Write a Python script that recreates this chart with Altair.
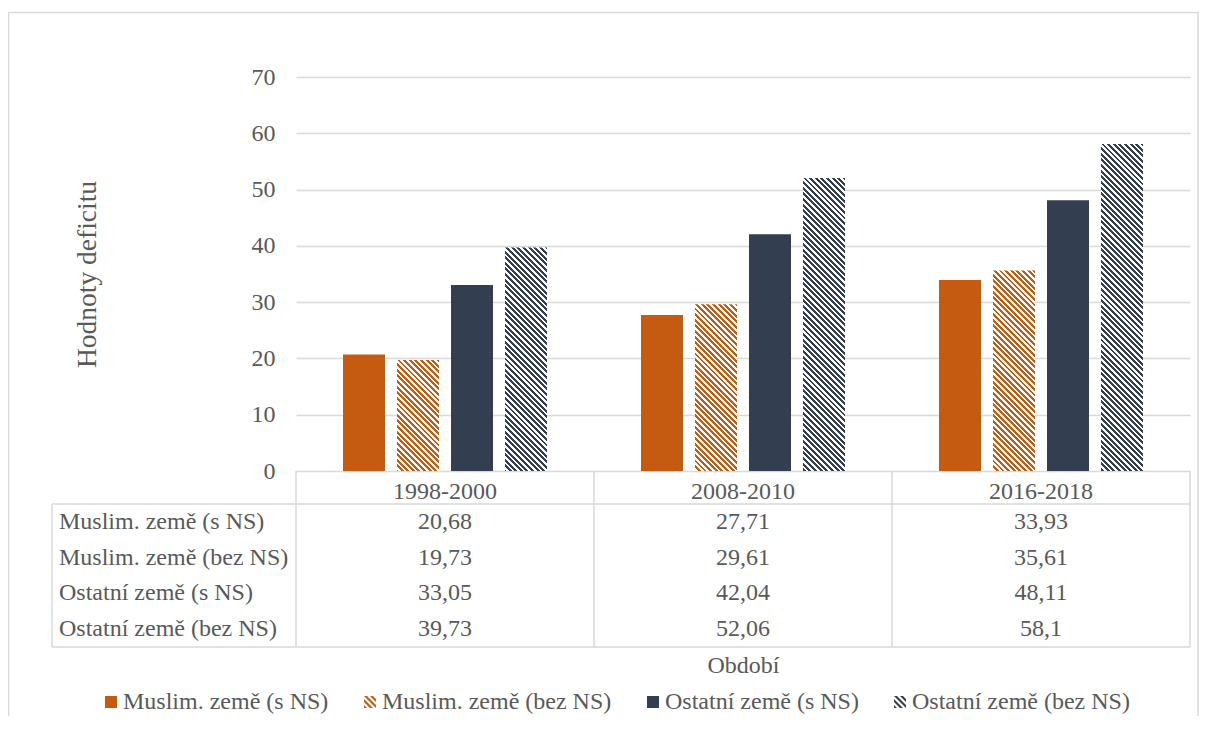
import math
import altair as alt
import pandas as pd

# ---------------- data ----------------
periods = ["1998-2000", "2008-2010", "2016-2018"]
series = ["Muslim. země (s NS)", "Muslim. země (bez NS)",
          "Ostatní země (s NS)", "Ostatní země (bez NS)"]
muslim_s = [20.68, 27.71, 33.93]
muslim_bez = [19.73, 29.61, 35.61]
ostatni_s = [33.05, 42.04, 48.11]
ostatni_bez = [39.73, 52.06, 58.1]
series_values = [muslim_s, muslim_bez, ostatni_s, ostatni_bez]
series_colors = ["#C55A11", "#C55A11", "#333F50", "#333F50"]
series_hatched = [False, True, False, True]
y_ticks = [0, 10, 20, 30, 40, 50, 60, 70]

# ---------------- style / layout ----------------
FONT = "Liberation Serif"
TEXT = "#595959"
LINE = "#D9D9D9"
W, H = 894, 394
YMAX = 70
STEP = W / len(periods)
BAR_STEP = 54.0
BAR_W = 42.0
PAD_IN = (BAR_STEP - BAR_W) / BAR_STEP
PAD_OUT = ((STEP - 4 * BAR_STEP + (BAR_STEP - BAR_W)) / 2) / BAR_STEP
BODY_TOP, BODY_BOT = 427, 570
LEFT_COL = -244

# hatch: pattern period = 1 y-unit in pixels; tiles of SEG units stacked from bar top
PX_PER_UNIT = H / YMAX
HATCH_P = 1.0 * PX_PER_UNIT
HATCH_DUTY = 0.52
SEG = 2
EPS = 0.15

rows = []
for s, vals in zip(series, series_values):
    for p, v in zip(periods, vals):
        rows.append({"period": p, "series": s, "value": v,
                     "label": f"{v:g}".replace(".", ",")})
df = pd.DataFrame(rows)


def hatch_gradient(color, w, h, period=HATCH_P, duty=HATCH_DUTY):
    """Diagonal '\\' stripes inside a w x h box, via a bbox-relative linear gradient."""
    L = w + h
    k = L / (w * w + h * h)
    a, b = w * k, h * k
    stops = []
    m = math.floor(-h / period) - 1
    while m * period < w:
        s0 = m * period
        s1 = s0 + period * duty
        s2 = s0 + period
        for lo, hi, c in ((s0, s1, color), (s1, s2, "#FFFFFF")):
            lo_c, hi_c = max(lo, -h), min(hi, w)
            if hi_c > lo_c:
                stops.append(((lo_c + h) / L, c))
                stops.append(((hi_c + h) / L, c))
        m += 1
    return {"gradient": "linear", "x1": 0, "y1": 1, "x2": a, "y2": 1 - b,
            "stops": [{"offset": round(o, 5), "color": c} for o, c in stops]}


def clip(poly, f):
    out = []
    n = len(poly)
    for i in range(n):
        p, q = poly[i], poly[(i + 1) % n]
        fp, fq = f(p), f(q)
        if fp >= 0:
            out.append(p)
        if (fp >= 0) != (fq >= 0):
            t = fp / (fp - fq)
            out.append((p[0] + t * (q[0] - p[0]), p[1] + t * (q[1] - p[1])))
    return out


def hatch_symbol(period=1.0, duty=0.5):
    sq = [(-1, -1), (1, -1), (1, 1), (-1, 1)]
    parts = []
    c = -2.0
    while c < 2.0:
        c0, c1 = c, c + period * duty
        poly = clip(sq, lambda p, c0=c0: (p[0] - p[1]) - c0)
        poly = clip(poly, lambda p, c1=c1: c1 - (p[0] - p[1]))
        if len(poly) >= 3:
            parts.append("M" + "L".join(f"{x:.3f},{y:.3f}" for x, y in poly) + "Z")
        c += period
    return "".join(parts)


HATCH_PATH = hatch_symbol()
shape_range = [HATCH_PATH if h else "square" for h in series_hatched]

# ---------------- encodings ----------------
x_enc = alt.X(
    "period:N",
    scale=alt.Scale(domain=periods, paddingInner=0, paddingOuter=0),
    axis=alt.Axis(labelFont=FONT, labelFontSize=24, labelColor=TEXT, labelAngle=0,
                  labelPadding=20, labelBaseline="middle", ticks=False, tickSize=0,
                  domain=False, grid=False, title="Období", titleFont=FONT,
                  titleFontSize=24, titleFontWeight="normal", titleColor=TEXT,
                  titleY=194, titleBaseline="middle"),
)
xoff_enc = alt.XOffset("series:N", scale=alt.Scale(domain=series, paddingInner=PAD_IN,
                                                    paddingOuter=PAD_OUT))
y_scale = alt.Scale(domain=[0, YMAX], nice=False)
y_axis = alt.Axis(values=y_ticks, labelFont=FONT, labelFontSize=24, labelColor=TEXT,
                  labelPadding=21, ticks=False, tickSize=0, domain=False, grid=True,
                  gridColor=LINE, gridWidth=1.5, title="Hodnoty deficitu",
                  titleFont=FONT, titleFontSize=27.5, titleFontWeight="normal",
                  titleColor=TEXT, titleAngle=270, titleX=-209, titleY=H / 2,
                  titleAlign="center", titleBaseline="middle")
y_enc = alt.Y("value:Q", scale=y_scale, axis=y_axis)

legend_def = alt.Legend(title=None, orient="none", legendX=-197, legendY=613,
                        direction="horizontal", columns=4, columnPadding=29,
                        labelFont=FONT, labelFontSize=24, labelColor=TEXT,
                        labelOffset=0, labelLimit=500, symbolSize=144,
                        symbolStrokeWidth=0, symbolOpacity=1, padding=0)
color_enc = alt.Color("series:N", scale=alt.Scale(domain=series, range=series_colors),
                      legend=legend_def)
shape_enc = alt.Shape("series:N", scale=alt.Scale(domain=series, range=shape_range),
                      legend=legend_def)

solid_series = [s for s, h in zip(series, series_hatched) if not h]
base = alt.Chart(df).transform_filter(
    alt.FieldOneOfPredicate(field="series", oneOf=solid_series)
).mark_bar().encode(x=x_enc, xOffset=xoff_enc, y=y_enc, color=color_enc)

bar_layers = [base]
tile_px = (SEG + EPS) * PX_PER_UNIT
for s, col, h in zip(series, series_colors, series_hatched):
    if not h:
        continue
    grad = hatch_gradient(col, BAR_W, tile_px)
    bar_layers.append(
        alt.Chart(df).transform_filter(alt.datum.series == s)
        .transform_calculate(k=f"sequence(0, ceil(datum.value / {SEG}))")
        .transform_flatten(["k"])
        .transform_calculate(top=f"datum.value - datum.k * {SEG}",
                             bot=f"datum.value - (datum.k + 1) * {SEG} - {EPS}")
        .mark_bar(fill=grad, clip=True)
        .encode(x=x_enc, xOffset=xoff_enc,
                y=alt.Y("top:Q", scale=y_scale, axis=y_axis), y2="bot:Q")
    )

legend_layer = alt.Chart(df).mark_point(filled=True, opacity=0).encode(
    x=x_enc, xOffset=xoff_enc, y=y_enc, color=color_enc, shape=shape_enc)
bar_layers.append(legend_layer)
bars = alt.layer(*bar_layers)

# ---------------- data table ----------------
table_y = alt.Scale(domain=series, range=[BODY_TOP, BODY_BOT], paddingInner=0, paddingOuter=0)
rule_style = dict(color=LINE, strokeWidth=1.5)

values_text = alt.Chart(df).mark_text(font=FONT, fontSize=24, color=TEXT, baseline="middle").encode(
    x=x_enc, y=alt.Y("series:N", scale=table_y, axis=None), text="label:N")
names_text = alt.Chart(pd.DataFrame({"series": series})).mark_text(
    font=FONT, fontSize=24, color=TEXT, baseline="middle", align="left").encode(
    x=alt.value(LEFT_COL + 7), y=alt.Y("series:N", scale=table_y, axis=None), text="series:N")

vlines = alt.Chart(pd.DataFrame({"period": periods})).mark_rule(**rule_style).encode(
    x=alt.X("period:N", bandPosition=0), y=alt.value(H), y2=alt.value(BODY_BOT))
vline_end = alt.Chart(pd.DataFrame({"period": periods[-1:]})).mark_rule(**rule_style).encode(
    x=alt.X("period:N", bandPosition=1), y=alt.value(H), y2=alt.value(BODY_BOT))
hline_top = alt.Chart(pd.DataFrame({"series": series[:1]})).mark_rule(**rule_style).encode(
    y=alt.Y("series:N", scale=table_y, axis=None, bandPosition=0),
    x=alt.value(LEFT_COL), x2=alt.value(W))
hline_bot = alt.Chart(pd.DataFrame({"series": series[-1:]})).mark_rule(**rule_style).encode(
    y=alt.Y("series:N", scale=table_y, axis=None, bandPosition=1),
    x=alt.value(LEFT_COL), x2=alt.value(W))
vline_left = alt.Chart(pd.DataFrame({"series": series[:1]})).mark_rule(**rule_style).encode(
    x=alt.value(LEFT_COL), y=alt.value(BODY_TOP), y2=alt.value(BODY_BOT))

frame = alt.Chart(pd.DataFrame({"k": [0]})).mark_rect(
    fill=None, stroke=LINE, strokeWidth=1.5).encode(
    x=alt.value(-287.5), x2=alt.value(902), y=alt.value(-64.5), y2=alt.value(720))

table = alt.layer(vlines, vline_end, hline_top, hline_bot, vline_left,
                  values_text, names_text, frame)

chart = alt.layer(bars, table).resolve_scale(y="independent").properties(
    width=W, height=H,
    autosize=alt.AutoSizeParams(type="none"),
    padding={"left": 288, "top": 69, "right": 9, "bottom": 245},
    background="white",
).configure_view(stroke=None)

chart.save("out.html", embed_options={"renderer": "svg", "actions": False})
